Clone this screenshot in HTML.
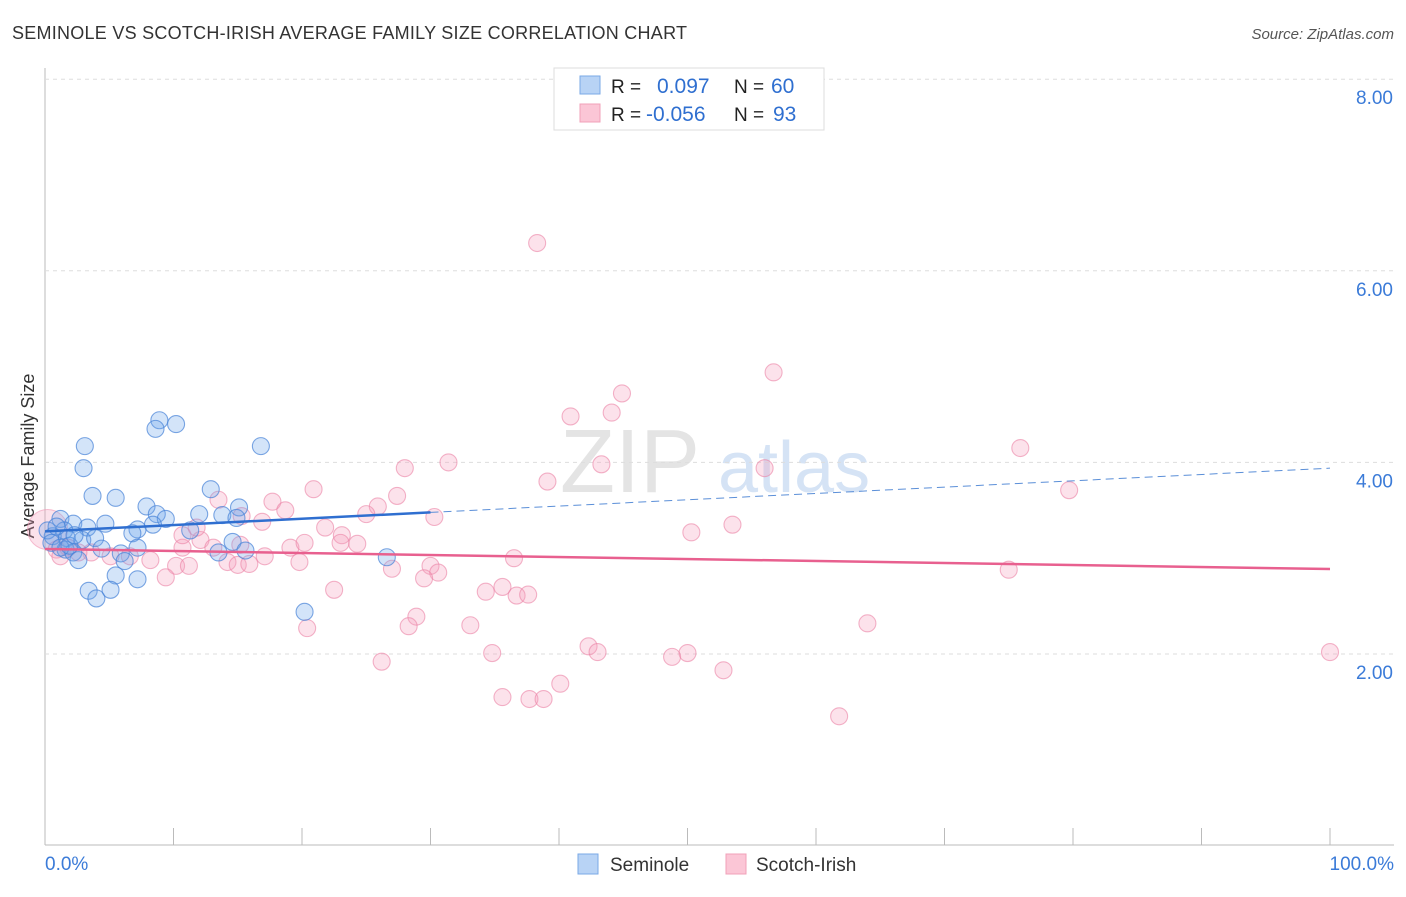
<!DOCTYPE html>
<html><head><meta charset="utf-8"><style>
body{margin:0;background:#fff;font-family:"Liberation Sans",sans-serif}
svg text{font-family:"Liberation Sans",sans-serif}
</style></head><body>
<svg id="c" width="1406" height="892">
<text x="12" y="39" font-size="18" fill="#333" textLength="675" lengthAdjust="spacing">SEMINOLE VS SCOTCH-IRISH AVERAGE FAMILY SIZE CORRELATION CHART</text>
<text x="1394" y="39" font-size="15" fill="#555" font-style="italic" text-anchor="end">Source: ZipAtlas.com</text>
<text x="560" y="492" font-size="90" fill="#e4e4e4" font-family="Liberation Serif">ZIP</text>
<text x="718" y="492" font-size="72" fill="#d5e3f5">atlas</text>
<text x="34" y="456" font-size="18" fill="#333" text-anchor="middle" transform="rotate(-90 34 456)">Average Family Size</text>
<g id="grid"></g><g id="pts"></g><g id="lines"></g>
<g>
<rect x="554" y="68" width="270" height="62" fill="#fff" stroke="#ddd"/>
<rect x="580" y="76" width="20" height="18" fill="#b8d3f5" stroke="#7aa8e6"/>
<rect x="580" y="104" width="20" height="18" fill="#fbc6d6" stroke="#f0a0b8"/>
<text y="93" font-size="19" fill="#222"><tspan x="611">R =</tspan><tspan x="657" fill="#2f6fd0" font-size="21">0.097</tspan><tspan x="734">N =</tspan><tspan x="771" fill="#2f6fd0" font-size="21">60</tspan></text>
<text y="121" font-size="19" fill="#222"><tspan x="611">R =</tspan><tspan x="646" fill="#2f6fd0" font-size="21">-0.056</tspan><tspan x="734">N =</tspan><tspan x="773" fill="#2f6fd0" font-size="21">93</tspan></text>
</g>
<g>
<rect x="578" y="854" width="20" height="20" fill="#b8d3f5" stroke="#7aa8e6"/>
<text x="610" y="871" font-size="19" fill="#333">Seminole</text>
<rect x="726" y="854" width="20" height="20" fill="#fbc6d6" stroke="#f0a0b8"/>
<text x="756" y="871" font-size="19" fill="#333">Scotch-Irish</text>
</g>
</svg>
<script>
const yTicks=[2,4,6,8];
const yTickLabels=["2.00","4.00","6.00","8.00"];
const xTickLabels=["0.0%","100.0%"];
const blueX=[8.9,8.6,10.2,3.1,16.8,3.0,3.7,5.5,12.9,7.9,15.1,12.0,8.7,9.4,13.8,14.9,8.4,7.2,4.7,1.2,2.2,3.3,6.8,11.3,1.5,0.6,1.7,2.9,3.9,14.6,13.5,15.6,4.4,7.2,1.6,2.2,5.9,6.2,2.6,5.5,7.2,3.4,4.0,5.1,26.6,20.2,0.2,0.5,1.2,1.9,0.9,2.3];
const blueY=[4.44,4.35,4.40,4.17,4.17,3.94,3.65,3.63,3.72,3.54,3.53,3.46,3.46,3.41,3.45,3.42,3.35,3.30,3.36,3.41,3.36,3.32,3.26,3.29,3.29,3.23,3.21,3.19,3.21,3.17,3.06,3.08,3.10,3.11,3.09,3.06,3.05,2.97,2.98,2.82,2.78,2.66,2.58,2.67,3.01,2.44,3.29,3.16,3.11,3.13,3.33,3.24];
const pinkX=[38.3,56.7,44.9,40.9,44.1,75.9,31.4,28.0,43.3,56.0,39.1,79.7,20.9,27.4,17.7,13.5,25.9,18.7,25.0,15.3,16.9,30.3,21.8,23.1,53.5,50.3,23.0,24.3,19.1,20.2,12.1,10.7,10.7,13.1,11.8,15.2,17.1,19.8,36.5,14.2,15.0,15.9,10.2,11.2,9.4,6.6,8.2,5.1,3.6,2.6,0.9,1.8,1.2,27.0,30.0,30.6,29.5,75.0,35.6,34.3,36.7,37.6,22.5,28.9,28.3,33.1,20.4,42.3,43.0,34.8,50.0,48.8,64.0,26.2,100,52.8,40.1,35.6,37.7,38.8,61.8];
const pinkY=[6.29,4.94,4.72,4.48,4.52,4.15,4.00,3.94,3.98,3.94,3.80,3.71,3.72,3.65,3.59,3.61,3.54,3.50,3.46,3.44,3.38,3.43,3.32,3.24,3.35,3.27,3.16,3.15,3.11,3.16,3.19,3.11,3.24,3.11,3.32,3.14,3.02,2.96,3.00,2.96,2.93,2.94,2.92,2.92,2.80,3.02,2.98,3.02,3.06,3.06,3.09,3.11,3.02,2.89,2.92,2.85,2.79,2.88,2.70,2.65,2.61,2.62,2.67,2.39,2.29,2.30,2.27,2.08,2.02,2.01,2.01,1.97,2.32,1.92,2.02,1.83,1.69,1.55,1.53,1.53,1.35];
const blueTrend=[3.28,0.0066];
const pinkTrend=[3.096,-0.00209];
const NS="http://www.w3.org/2000/svg";
const X=v=>45+v*12.85, Y=v=>654-(v-2)*95.8;
function mk(t,a,p){const e=document.createElementNS(NS,t);for(const k in a)e.setAttribute(k,a[k]);p.appendChild(e);return e;}
const g=document.getElementById('grid');
const ax=mk('line',{x1:45,y1:68,x2:45,y2:845,stroke:'#bbb'},g);

const bx=mk('line',{x1:45,y1:845,x2:1394,y2:845,stroke:'#bbb'},g);

for(let i=0;i<=10;i++){const t=mk('line',{x1:X(i*10),y1:828,x2:X(i*10),y2:845,stroke:'#bbb'},g);
}
yTicks.forEach((v,i)=>{const l=mk('line',{x1:45,y1:Y(v),x2:1394,y2:Y(v),stroke:'#ddd','stroke-dasharray':'4,4'},g);

const t=mk('text',{x:1393,y:Y(v)+25,'font-size':19,fill:'#3b7bd8','text-anchor':'end'},g);t.textContent=yTickLabels[i];
});
[[45,'start',0],[1394,'end',1]].forEach(([x,a,i])=>{const t=mk('text',{x:x,y:870,'font-size':19,fill:'#3b7bd8','text-anchor':a},g);t.textContent=xTickLabels[i];
});
const p=document.getElementById('pts');
const big=mk('circle',{cx:X(0.2),cy:Y(3.3),r:20,fill:'rgba(245,160,190,0.3)',stroke:'rgba(240,150,180,0.6)'},p);

pinkX.forEach((x,i)=>{const c=mk('circle',{cx:X(x),cy:Y(pinkY[i]),r:8.5,fill:'rgba(245,160,190,0.3)',stroke:'rgba(235,130,165,0.6)','stroke-width':1.1},p);
});
blueX.forEach((x,i)=>{const c=mk('circle',{cx:X(x),cy:Y(blueY[i]),r:8.5,fill:'rgba(110,165,235,0.3)',stroke:'rgba(70,130,215,0.7)','stroke-width':1.1},p);
});
const L=document.getElementById('lines');
const f=(t,x)=>t[0]+t[1]*x;
let e=mk('line',{x1:X(0),y1:Y(f(blueTrend,0)),x2:X(30),y2:Y(f(blueTrend,30)),stroke:'#2f6fd0','stroke-width':2.5},L);

e=mk('line',{x1:X(30),y1:Y(f(blueTrend,30)),x2:X(100),y2:Y(f(blueTrend,100)),stroke:'#5b8fd8','stroke-width':1,'stroke-dasharray':'8,5'},L);

e=mk('line',{x1:X(0),y1:Y(f(pinkTrend,0)),x2:X(100),y2:Y(f(pinkTrend,100)),stroke:'#e8608f','stroke-width':2.5},L);

</script>
</body></html>
